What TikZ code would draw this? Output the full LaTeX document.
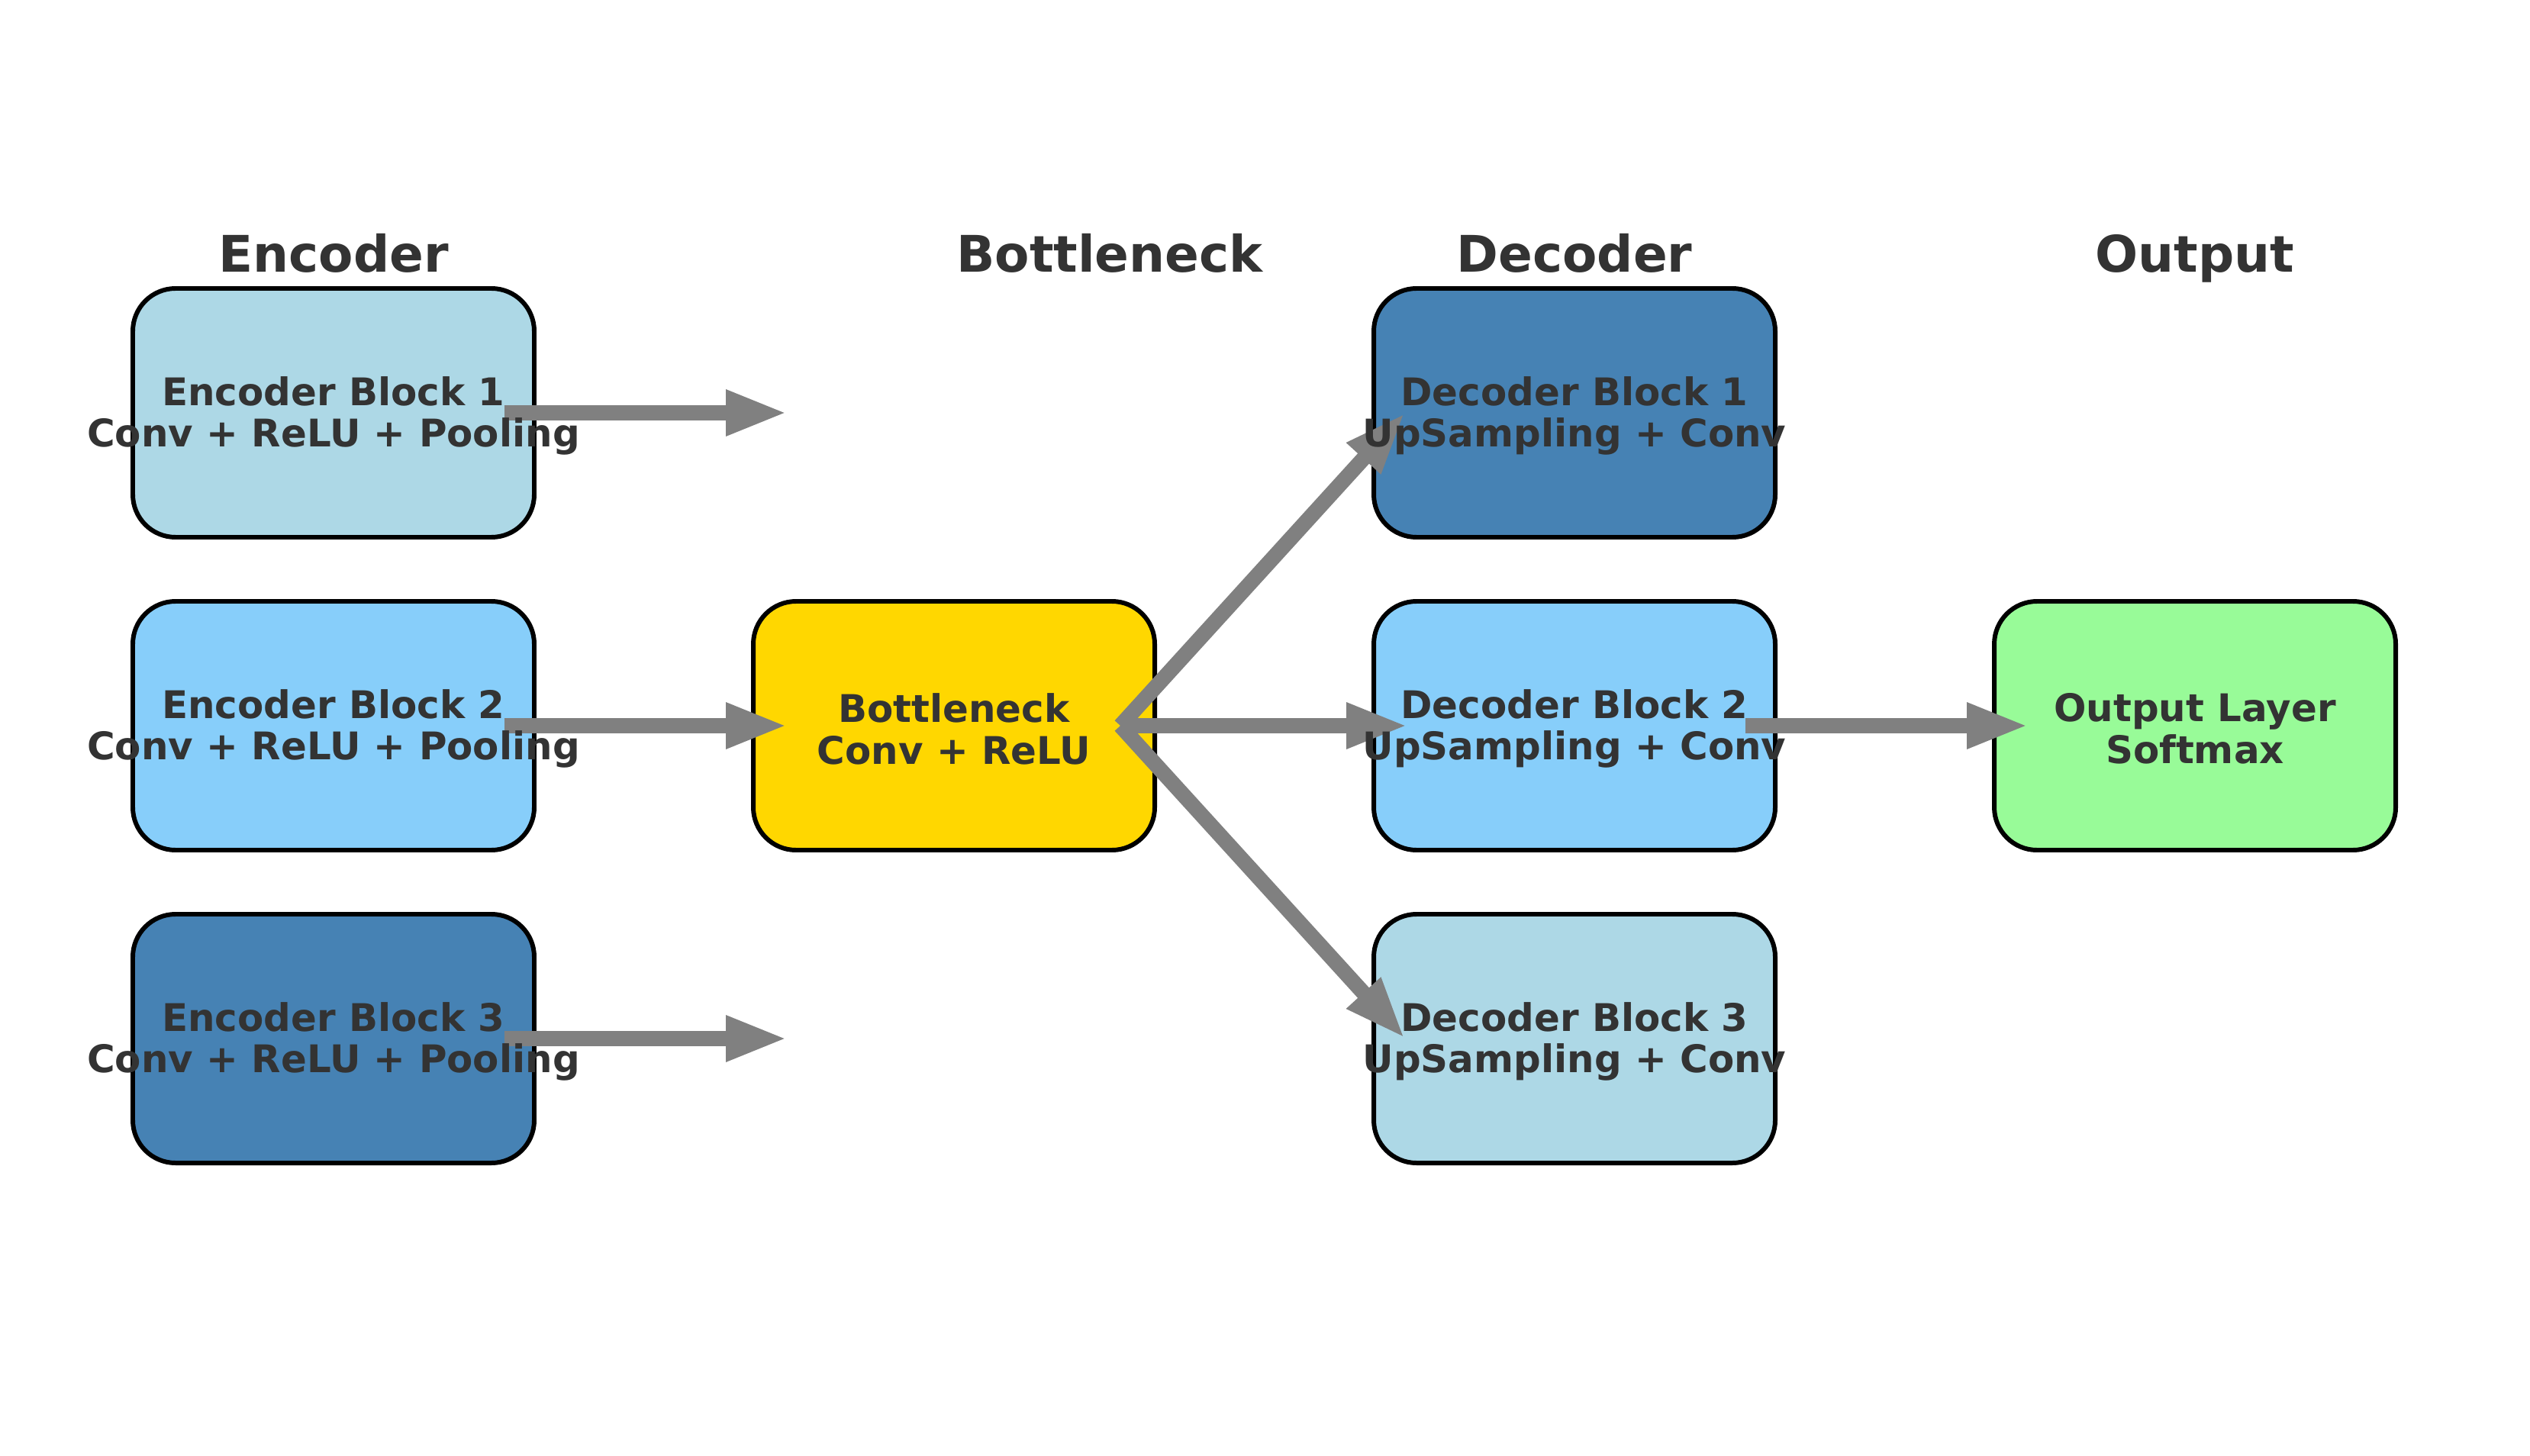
\documentclass[tikz,border=0pt]{standalone}
\usepackage{fontspec}
\setmainfont{DejaVu Sans}
\usetikzlibrary{arrows.meta}
\definecolor{tintA}{HTML}{ADD8E6}
\definecolor{tintB}{HTML}{87CEFA}
\definecolor{tintC}{HTML}{4682B4}
\definecolor{bneck}{HTML}{FFD700}
\definecolor{outfill}{HTML}{98FB98}
\definecolor{inktext}{HTML}{333333}
\definecolor{flowgray}{HTML}{808080}

\begin{document}
\begin{tikzpicture}[
  block/.style={draw=black, line width=1.7pt, rounded corners=0.56cm,
                minimum width=5.26cm, minimum height=3.26cm, inner sep=0pt},
  blocktext/.style={text=inktext, align=center, yshift=-0.04cm,
                    font=\fontsize{14.2}{15.6}\selectfont\bfseries},
  heading/.style={text=inktext, anchor=base,
                  font=\fontsize{18.8}{22}\selectfont\bfseries},
  flow/.style={draw=flowgray, line width=0.2cm,
               -{Triangle[width=0.55cm, length=0.81cm]}},
]
\path[use as bounding box] (0, 0) rectangle (33.15, 19.07);

% column headings
\node[heading] (hEnc) at (4.37, 15.50) {Encoder};
\node[heading] (hBot) at (14.54, 15.50) {Bottleneck};
\node[heading] (hDec) at (20.63, 15.50) {Decoder};
\node[heading] (hOut) at (28.76, 15.50) {Output};

% boxes
\node[block, fill=tintA] (enc1) at (4.37, 13.66) {};
\node[block, fill=tintB] (enc2) at (4.37, 9.56) {};
\node[block, fill=tintC] (enc3) at (4.37, 5.46) {};
\node[block, fill=bneck] (bott) at (12.50, 9.56) {};
\node[block, fill=tintC] (dec1) at (20.63, 13.66) {};
\node[block, fill=tintB] (dec2) at (20.63, 9.56) {};
\node[block, fill=tintA] (dec3) at (20.63, 5.46) {};
\node[block, fill=outfill] (out) at (28.76, 9.56) {};

% free ends of the encoder arrows
\coordinate (e1end) at ([xshift=0.48cm]bott.west |- enc1);
\coordinate (e3end) at ([xshift=0.48cm]bott.west |- enc3);

% arrows
\draw[flow] ([xshift=-0.42cm]enc1.east) -- (e1end);
\draw[flow] ([xshift=-0.42cm]enc2.east) -- ([xshift=0.48cm]bott.west);
\draw[flow] ([xshift=-0.42cm]enc3.east) -- (e3end);
\draw[flow] ([xshift=-0.48cm]bott.east) -- ([xshift=0.44cm]dec1.west);
\draw[flow] ([xshift=-0.48cm]bott.east) -- ([xshift=0.48cm]dec2.west);
\draw[flow] ([xshift=-0.48cm]bott.east) -- ([xshift=0.44cm]dec3.west);
\draw[flow] ([xshift=-0.42cm]dec2.east) -- ([xshift=0.48cm]out.west);

% box texts
\node[blocktext] (enc1t) at (enc1) {Encoder Block 1\\Conv + ReLU + Pooling};
\node[blocktext] (enc2t) at (enc2) {Encoder Block 2\\Conv + ReLU + Pooling};
\node[blocktext] (enc3t) at (enc3) {Encoder Block 3\\Conv + ReLU + Pooling};
\node[blocktext] (bottt) at (bott) {Bottleneck\\Conv + ReLU};
\node[blocktext] (dec1t) at (dec1) {Decoder Block 1\\UpSampling + Conv};
\node[blocktext] (dec2t) at (dec2) {Decoder Block 2\\UpSampling + Conv};
\node[blocktext] (dec3t) at (dec3) {Decoder Block 3\\UpSampling + Conv};
\node[blocktext] (outt) at (out) {Output Layer\\Softmax};

\end{tikzpicture}
\end{document}
